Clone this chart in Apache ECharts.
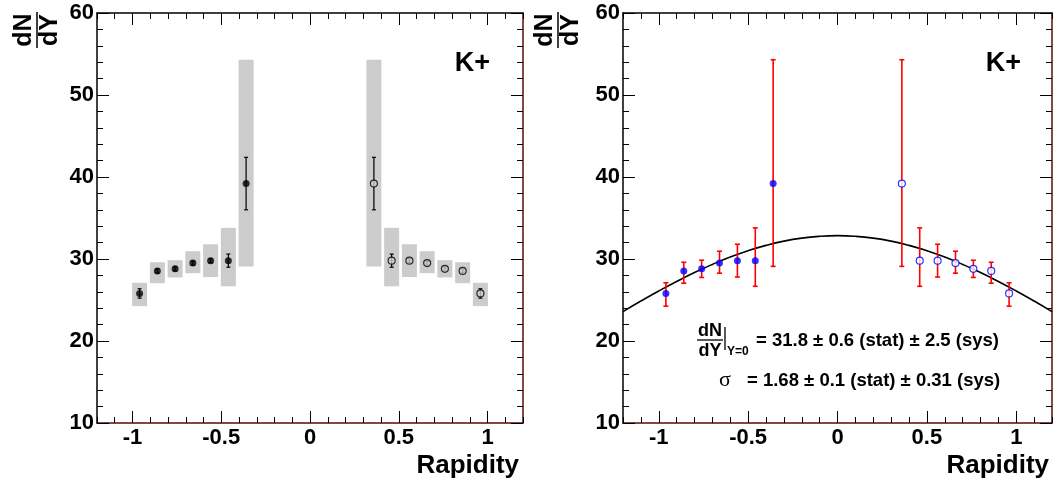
<!DOCTYPE html>
<html>
<head>
<meta charset="utf-8">
<script src="https://cdn.jsdelivr.net/npm/echarts@6/dist/echarts.min.js"></script>
<style>html,body{margin:0;padding:0;background:#fff}#c{width:1056px;height:486px}</style>
</head>
<body>
<div id="c"></div>
<script>
// ---------------- data ----------------
const rapidity = [-0.96,-0.86,-0.76,-0.66,-0.56,-0.46,-0.36, 0.36,0.46,0.56,0.66,0.76,0.86,0.96];
const dNdY     = [25.8,28.55,28.8,29.5,29.8,29.8,39.2, 39.2,29.8,29.8,29.5,28.8,28.55,25.8];
const statErr  = [0.57,0.25,0.25,0.25,0.25,0.8,3.2, 3.2,0.8,0.25,0.25,0.25,0.25,0.57];
const sysLow   = [24.25,27.05,27.75,28.27,27.8,26.67,29.1, 29.1,26.67,27.8,28.27,27.75,27.05,24.25];
const sysHigh  = [27.1,29.6,29.85,30.95,31.8,33.8,54.3, 54.3,33.8,31.8,30.95,29.85,29.6,27.1];
const fitRapidity = [-1.2,-1.1,-1.0,-0.9,-0.8,-0.7,-0.6,-0.5,-0.4,-0.3,-0.2,-0.1,0,0.1,0.2,0.3,0.4,0.5,0.6,0.7,0.8,0.9,1.0,1.1,1.2];
const fitValues   = [23.58,24.87,26.10,27.26,28.35,29.34,30.24,31.01,31.66,32.18,32.55,32.77,32.85,32.77,32.55,32.18,31.66,31.01,30.24,29.34,28.35,27.26,26.10,24.87,23.58];
const xTickValues = [-1,-0.5,0,0.5,1];
const xTickLabels = ['-1','-0.5','0','0.5','1'];
const xMinorTicks = [-1.2,-1.1,-0.9,-0.8,-0.7,-0.6,-0.4,-0.3,-0.2,-0.1,0.1,0.2,0.3,0.4,0.6,0.7,0.8,0.9,1.1,1.2];
const yTickLabels = ['10','20','30','40','50','60'];
const particle = 'K+';
const xTitle = 'Rapidity';
const fitLine1 = '= 31.8 \u00b1 0.6 (stat) \u00b1 2.5 (sys)';
const fitLine2 = '= 1.68 \u00b1 0.1 (stat) \u00b1 0.31 (sys)';

// ---------------- build ----------------
const FRAME_DARK = '#5a0a0a';
const labelFont = {fontFamily:'Liberation Sans', fontWeight:'bold', fontSize:22, color:'#000'};
const rects = [
  {left:97, top:13, width:426, height:410},
  {left:623, top:13, width:429, height:410}
];
// grids 0,1: data panels; grids 2,3: overlays carrying the minor x ticks
const grids = rects.concat(rects).map(r=>Object.assign({}, r));

function xMajor(g, pos){
  const label = pos==='bottom';
  return {gridIndex:g, type:'value', min:-1.2, max:1.2, position:pos, splitLine:{show:false},
    axisLine:{show:true, onZero:false, lineStyle:{color: pos==='bottom'?FRAME_DARK:'#000', width:1.5}},
    axisTick:{show:true, inside:true, length:12, customValues:xTickValues, lineStyle:{color:'#000', width:1}},
    axisLabel:Object.assign({show:label, margin:4, customValues:xTickValues,
      formatter:function(v){const i=xTickValues.findIndex(t=>Math.abs(t-v)<1e-9);return i>=0?xTickLabels[i]:'';}}, labelFont)};
}
function xMinor(g, pos){
  return {gridIndex:g, type:'value', min:-1.2, max:1.2, position:pos, splitLine:{show:false},
    axisLine:{show:false, onZero:false},
    axisTick:{show:true, inside:true, length:6, customValues:xMinorTicks, lineStyle:{color:'#000', width:1}},
    axisLabel:{show:false}};
}
function yAxisFor(g, pos){
  return {gridIndex:g, type:'value', min:10, max:60, interval:10, position:pos,
    splitLine:{show:false}, minorSplitLine:{show:false},
    axisLine:{show:true, onZero:false, lineStyle:{color: pos==='left'?'#000':FRAME_DARK, width:1.5}},
    axisTick:{show:true, inside:true, length:12, lineStyle:{color:'#000', width:1}},
    minorTick:{show:true, splitNumber:5, length:6, lineStyle:{color:'#000', width:1}},
    axisLabel:Object.assign({show:pos==='left', margin:3,
      formatter:function(v){return yTickLabels[Math.round((v-10)/10)];}}, labelFont)};
}
function hiddenY(g){
  return {gridIndex:g, type:'value', min:10, max:60, show:false};
}

const xAxis = [
  xMajor(0,'bottom'), xMajor(0,'top'),   // 0,1
  xMajor(1,'bottom'), xMajor(1,'top'),   // 2,3
  xMinor(2,'bottom'), xMinor(2,'top'),   // 4,5
  xMinor(3,'bottom'), xMinor(3,'top')    // 6,7
];
const yAxis = [
  yAxisFor(0,'left'), yAxisFor(0,'right'), // 0,1
  yAxisFor(1,'left'), yAxisFor(1,'right'), // 2,3
  hiddenY(2), hiddenY(3)                   // 4,5
];

const boxData = rapidity.map((x,i)=>[x, sysLow[i], sysHigh[i]]);
const statData = rapidity.map((x,i)=>[x, dNdY[i]-statErr[i], dNdY[i]+statErr[i]]);
const sysData = rapidity.map((x,i)=>[x, sysLow[i], sysHigh[i]]);
const negPts = rapidity.map((x,i)=>[x, dNdY[i]]).filter(p=>p[0]<0);
const posPts = rapidity.map((x,i)=>[x, dNdY[i]]).filter(p=>p[0]>0);
const fitData = fitRapidity.map((x,i)=>[x, fitValues[i]]);

function boxRender(params, api){
  const x = api.value(0);
  const p1 = api.coord([x, api.value(2)]);
  const p2 = api.coord([x, api.value(1)]);
  const hw = 7.5;
  return {type:'rect', shape:{x:p1[0]-hw, y:p1[1], width:2*hw, height:p2[1]-p1[1]}, style:{fill:'#cccccc'}};
}
function errRender(color, capHalf, lw){
  return function(params, api){
    const x = api.value(0);
    const top = api.coord([x, api.value(2)]);
    const bot = api.coord([x, api.value(1)]);
    const st = {stroke:color, lineWidth:lw};
    return {type:'group', children:[
      {type:'line', shape:{x1:top[0], y1:top[1], x2:bot[0], y2:bot[1]}, style:st},
      {type:'line', shape:{x1:top[0]-capHalf, y1:top[1], x2:top[0]+capHalf, y2:top[1]}, style:st},
      {type:'line', shape:{x1:bot[0]-capHalf, y1:bot[1], x2:bot[0]+capHalf, y2:bot[1]}, style:st}
    ]};
  };
}

const series = [
  // left panel
  {type:'custom', xAxisIndex:0, yAxisIndex:0, data:boxData, renderItem:boxRender, encode:{x:0,y:[1,2]}, z:1, silent:true},
  {type:'custom', xAxisIndex:0, yAxisIndex:0, data:statData, renderItem:errRender('#000',2,1.2), encode:{x:0,y:[1,2]}, z:2, silent:true},
  {type:'scatter', xAxisIndex:0, yAxisIndex:0, data:negPts, symbol:'circle', symbolSize:7, itemStyle:{color:'#000'}, z:3, silent:true},
  {type:'scatter', xAxisIndex:0, yAxisIndex:0, data:posPts, symbol:'circle', symbolSize:7, itemStyle:{color:'#cccccc', borderColor:'#000', borderWidth:1.2}, z:3, silent:true},
  // right panel
  {type:'line', xAxisIndex:2, yAxisIndex:2, data:fitData, smooth:true, showSymbol:false, lineStyle:{color:'#000', width:1.6}, z:2, silent:true},
  {type:'custom', xAxisIndex:2, yAxisIndex:2, data:sysData, renderItem:errRender('#ff0000',2.5,1.6), encode:{x:0,y:[1,2]}, z:3, silent:true},
  {type:'scatter', xAxisIndex:2, yAxisIndex:2, data:negPts, symbol:'circle', symbolSize:7, itemStyle:{color:'#0000ff'}, z:4, silent:true},
  {type:'scatter', xAxisIndex:2, yAxisIndex:2, data:posPts, symbol:'circle', symbolSize:7, itemStyle:{color:'#ffffff', borderColor:'#0000ff', borderWidth:1.2}, z:4, silent:true}
];

function yTitle(cx, cy){
  const f = 'bold 25px "Liberation Sans"';
  return {type:'group', x:cx, y:cy, rotation:Math.PI/2, children:[
    {type:'text', x:0, y:-13, style:{text:'dN', font:f, fill:'#000', textAlign:'center', textVerticalAlign:'middle'}},
    {type:'line', shape:{x1:-18, y1:0, x2:18, y2:0}, style:{stroke:'#000', lineWidth:1.5}},
    {type:'text', x:0, y:13, style:{text:'dY', font:f, fill:'#000', textAlign:'center', textVerticalAlign:'middle'}}
  ]};
}
const graphic = [
  yTitle(37, 30),
  yTitle(558, 30),
  {type:'text', x:519, y:466, style:{text:xTitle, font:'bold 26px "Liberation Sans"', fill:'#000', textAlign:'right', textVerticalAlign:'middle'}},
  {type:'text', x:1049, y:466, style:{text:xTitle, font:'bold 26px "Liberation Sans"', fill:'#000', textAlign:'right', textVerticalAlign:'middle'}},
  {type:'text', x:490, y:64, style:{text:particle, font:'bold 27px "Liberation Sans"', fill:'#000', textAlign:'right', textVerticalAlign:'middle'}},
  {type:'text', x:1021, y:64, style:{text:particle, font:'bold 27px "Liberation Sans"', fill:'#000', textAlign:'right', textVerticalAlign:'middle'}},
  // fit result annotation
  {type:'text', x:710, y:331, style:{text:'dN', font:'bold 18px "Liberation Sans"', fill:'#000', textAlign:'center', textVerticalAlign:'middle'}},
  {type:'line', shape:{x1:697, y1:340, x2:723, y2:340}, style:{stroke:'#000', lineWidth:1.3}},
  {type:'text', x:710, y:351, style:{text:'dY', font:'bold 18px "Liberation Sans"', fill:'#000', textAlign:'center', textVerticalAlign:'middle'}},
  {type:'line', shape:{x1:725, y1:327, x2:725, y2:350}, style:{stroke:'#000', lineWidth:1.3}},
  {type:'text', x:727, y:352, style:{text:'Y=0', font:'bold 12px "Liberation Sans"', fill:'#000', textAlign:'left', textVerticalAlign:'middle'}},
  {type:'text', x:756, y:341, style:{text:fitLine1, font:'bold 18.5px "Liberation Sans"', fill:'#000', textAlign:'left', textVerticalAlign:'middle'}},
  {type:'text', x:719, y:380, style:{text:'\u03c3', font:'22px "Liberation Serif"', fill:'#000', textAlign:'left', textVerticalAlign:'middle'}},
  {type:'text', x:747, y:381, style:{text:fitLine2, font:'bold 18.5px "Liberation Sans"', fill:'#000', textAlign:'left', textVerticalAlign:'middle'}}
];

const chart = echarts.init(document.getElementById('c'), null, {renderer:'canvas'});
chart.setOption({
  animation:false,
  backgroundColor:'#ffffff',
  grid:grids,
  xAxis:xAxis,
  yAxis:yAxis,
  series:series,
  graphic:graphic
});
</script>
</body>
</html>
